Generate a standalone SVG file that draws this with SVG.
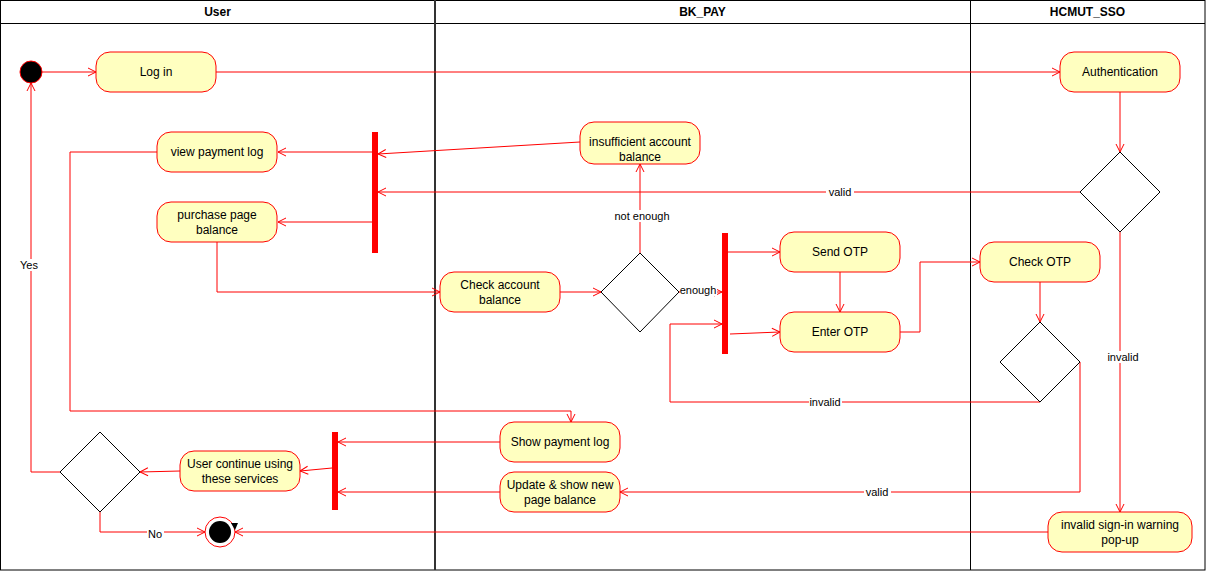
<svg xmlns="http://www.w3.org/2000/svg" width="1206" height="571" viewBox="0 0 1206 571">
<style>
.lane{fill:none;stroke:#000;stroke-width:1}
.hdr{font-family:"Liberation Sans",Arial,sans-serif;font-size:12px;font-weight:bold;fill:#000;text-anchor:middle}
.act{fill:#FFFFC0;stroke:#FF0000;stroke-width:1}
.t{font-family:"Liberation Sans",Arial,sans-serif;font-size:12px;fill:#000;text-anchor:middle}
.dia{fill:#fff;stroke:#000;stroke-width:1}
.bar{fill:#FF0000;stroke:#FF0000}
.e{fill:none;stroke:#FF0000;stroke-width:1;marker-end:url(#arr)}
.en{fill:none;stroke:#FF0000;stroke-width:1}
.lb{font-family:"Liberation Sans",Arial,sans-serif;font-size:11px;fill:#000;text-anchor:middle}
.lbg{fill:#fff}
</style>
<defs>
<marker id="arr" markerUnits="userSpaceOnUse" markerWidth="12" markerHeight="12" refX="9" refY="5" orient="auto">
<path d="M1,1 L9,5 L1,9" fill="none" stroke="#FF0000" stroke-width="1"/>
</marker>
</defs>
<rect width="1206" height="571" fill="#fff"/>
<g id="lanes">
<rect class="lane" x="0.5" y="0.5" width="1204.5" height="569.5"/>
<line class="lane" x1="0" y1="23.5" x2="1205" y2="23.5"/>
<line x1="435" y1="0" x2="435" y2="570" stroke="#333" stroke-width="2"/>
<line class="lane" x1="970.5" y1="0" x2="970.5" y2="570"/>
<text class="hdr" x="217.5" y="16">User</text>
<text class="hdr" x="702.5" y="16">BK_PAY</text>
<text class="hdr" x="1087.5" y="16">HCMUT_SSO</text>
</g>
<g id="connectors">
<path class="e" d="M42,72 H96"/>
<path class="e" d="M216,72 H1060"/>
<path class="e" d="M1120,92 V152"/>
<path class="e" d="M1081,192 H378"/>
<path class="e" d="M1120,232 V512"/>
<path class="e" d="M580,142 L378,154"/>
<path class="e" d="M372,152 H278"/>
<path class="e" d="M372,222 H278"/>
<path class="e" d="M217,242 V292 H440"/>
<path class="e" d="M157,152 H70 V411 H571 V422"/>
<path class="e" d="M560,292 H601"/>
<path class="e" d="M640,253 V164"/>
<path class="e" d="M679,292 H722"/>
<path class="e" d="M728,252 H780"/>
<path class="e" d="M730,334 L780,332"/>
<path class="e" d="M840,272 V312"/>
<path class="e" d="M900,332 H920 V262 H980"/>
<path class="e" d="M1040,282 V322"/>
<path class="e" d="M1040,402 H670 V324 H722"/>
<path class="e" d="M1080,362 V492 H620"/>
<path class="e" d="M500,442 H338"/>
<path class="e" d="M500,492 H338"/>
<path class="e" d="M332,468 L300,471"/>
<path class="e" d="M180,471 L140,472"/>
<path class="e" d="M60,472 H31 V83"/>
<path class="e" d="M100,512 V532 H205"/>
<path class="e" d="M1048,532 H235"/>
<rect class="lbg" x="826" y="186" width="28" height="12"/>
<text class="lb" x="840" y="196">valid</text>
<rect class="lbg" x="1107" y="351" width="33" height="12"/>
<text class="lb" x="1123" y="361">invalid</text>
<rect class="lbg" x="613" y="210" width="58" height="12"/>
<text class="lb" x="642" y="220">not enough</text>
<rect class="lbg" x="680" y="284" width="37" height="12"/>
<text class="lb" x="698" y="294">enough</text>
<rect class="lbg" x="809" y="396" width="33" height="12"/>
<text class="lb" x="825" y="406">invalid</text>
<rect class="lbg" x="864" y="486" width="27" height="12"/>
<text class="lb" x="877" y="496">valid</text>
<rect class="lbg" x="18" y="259" width="22" height="12"/>
<text class="lb" x="29" y="269">Yes</text>
<rect class="lbg" x="147" y="528" width="17" height="12"/>
<text class="lb" x="155" y="538">No</text>
</g>
<g id="start"><circle cx="31" cy="72" r="11" fill="#000" stroke="#FF0000"/></g>
<g id="login"><rect class="act" x="96" y="52" width="120" height="40" rx="14"/><text class="t" x="156" y="76">Log in</text></g>
<g id="auth"><rect class="act" x="1060" y="52" width="120" height="40" rx="14"/><text class="t" x="1120" y="76">Authentication</text></g>
<g id="dec1"><path class="dia" d="M1120,152 L1160,192 L1120,232 L1080,192 Z"/></g>
<g id="viewlog"><rect class="act" x="157" y="132" width="120" height="40" rx="14"/><text class="t" x="217" y="156">view payment log</text></g>
<g id="purchase"><rect class="act" x="157" y="202" width="120" height="40" rx="14"/><text class="t" x="217" y="219">purchase page</text><text class="t" x="217" y="234">balance</text></g>
<g id="fork1"><rect class="bar" x="372.5" y="132.5" width="5" height="120"/></g>
<g id="insuff"><rect class="act" x="580" y="122" width="120" height="42" rx="14"/><text class="t" x="640" y="146">insufficient account</text><text class="t" x="640" y="161">balance</text></g>
<g id="checkbal"><rect class="act" x="440" y="272" width="120" height="40" rx="14"/><text class="t" x="500" y="289">Check account</text><text class="t" x="500" y="304">balance</text></g>
<g id="dec2"><path class="dia" d="M640,253 L679,292 L640,332 L601,292 Z"/></g>
<g id="fork2"><rect class="bar" x="722.5" y="233.5" width="5" height="120"/></g>
<g id="sendotp"><rect class="act" x="780" y="232" width="120" height="40" rx="14"/><text class="t" x="840" y="256">Send OTP</text></g>
<g id="enterotp"><rect class="act" x="780" y="312" width="120" height="40" rx="14"/><text class="t" x="840" y="336">Enter OTP</text></g>
<g id="checkotp"><rect class="act" x="980" y="242" width="120" height="40" rx="14"/><text class="t" x="1040" y="266">Check OTP</text></g>
<g id="dec3"><path class="dia" d="M1040,322 L1080,362 L1040,402 L1000,362 Z"/></g>
<g id="warn"><rect class="act" x="1048" y="512" width="144" height="40" rx="14"/><text class="t" x="1120" y="529">invalid sign-in warning</text><text class="t" x="1120" y="544">pop-up</text></g>
<g id="showlog"><rect class="act" x="500" y="422" width="120" height="40" rx="14"/><text class="t" x="560" y="446">Show payment log</text></g>
<g id="update"><rect class="act" x="500" y="472" width="120" height="40" rx="14"/><text class="t" x="560" y="489">Update &amp; show new</text><text class="t" x="560" y="504">page balance</text></g>
<g id="join3"><rect class="bar" x="332.5" y="432.5" width="5" height="77"/></g>
<g id="continue"><rect class="act" x="180" y="451" width="120" height="40" rx="14"/><text class="t" x="240" y="468">User continue using</text><text class="t" x="240" y="483">these services</text></g>
<g id="dec4"><path class="dia" d="M100,432 L140,472 L100,512 L60,472 Z"/></g>
<g id="end"><circle cx="220" cy="532" r="15" fill="#fff" stroke="#FF0000"/><circle cx="220" cy="532" r="11" fill="#000"/><path d="M231,523 L238,523 L235,530 Z" fill="#000"/></g>
</svg>
